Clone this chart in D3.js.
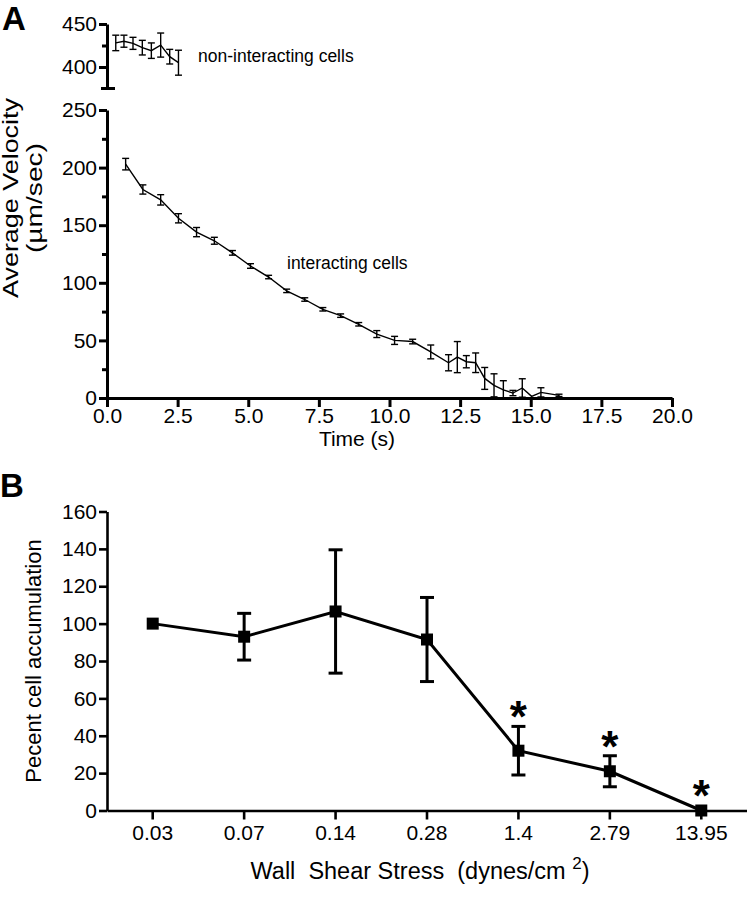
<!DOCTYPE html>
<html><head><meta charset="utf-8">
<script src="https://cdn.jsdelivr.net/npm/d3@7"></script>
<style>
body{margin:0;background:#fff}
svg{display:block}
text{font-family:"Liberation Sans",Arial,Helvetica,sans-serif;fill:#000}
</style>
</head><body>
<svg id="c" width="747" height="899"></svg>
<script>
// ---------- Panel A data ----------
const nonTime = [0.31,0.60,0.92,1.25,1.57,1.90,2.22,2.53];
const nonVel  = [428,430,427.5,422.5,419,425.5,412,405];
const nonErr  = [9,7,7,8.5,9,14,8.5,14.5];

const interTime = [0.66,1.27,1.90,2.53,3.17,3.80,4.44,5.08,5.72,6.36,7.00,7.64,8.27,8.91,9.55,10.18,10.82,11.46,12.09,12.40,12.72,13.05,13.37,13.70,14.03,14.37,14.70,15.03,15.36,16.00];
const interVel  = [203,181,172,156,144,136.5,126,114.6,105,93,85.5,77,71.5,64,55.5,50,49,40,30.6,35.5,31.5,30.6,17,11,7,4.3,8.7,1.4,4.9,2.3];
const interErr  = [5,4,4.5,4,4,3,2,2,1.5,1.5,1.5,1.5,1.5,1.5,3,3.5,2,6,7,13.5,5.3,8.5,9.5,10,8,2.3,8,0,4,1];

const timeTicks = [0,2.5,5,7.5,10,12.5,15,17.5,20];
const lowVelTicks = [0,50,100,150,200,250];
const lowVelMinor = [25,75,125,175,225];
const highVelTicks = [400,450];
const highVelMinor = [425];

// ---------- Panel B data ----------
const shearCats = ["0.03","0.07","0.14","0.28","1.4","2.79","13.95"];
const pctMean   = [100,93,106.5,91.5,32,21,0];
const pctErr    = [0,12.5,33,22.5,13,8.3,0];
const pctSig    = [false,false,false,false,true,true,true];
const pctTicks  = [0,20,40,60,80,100,120,140,160];

const svg = d3.select("#c");
const FONT = 21;

function styleAxis(g, w){
  g.selectAll("path.domain").attr("stroke","#000").attr("stroke-width",w);
  g.selectAll(".tick line").attr("stroke","#000").attr("stroke-width",w);
  g.selectAll(".tick text").attr("font-size",FONT).attr("font-family","Liberation Sans, Arial, sans-serif").attr("fill","#000");
}

// ================= PANEL A =================
const xA = d3.scaleLinear().domain([0,20]).range([107,672]);
const yLow = d3.scaleLinear().domain([0,250]).range([398,110]);
const yHigh = d3.scaleLinear().domain([375,450]).range([88.5,24]);

// lower y axis
const gyl = svg.append("g").attr("transform","translate(107,0)")
  .call(d3.axisLeft(yLow).tickValues(lowVelTicks).tickSize(8).tickSizeOuter(0).tickPadding(2).tickFormat(d3.format("d")));
styleAxis(gyl,3);
svg.append("g").attr("transform","translate(107,0)")
  .call(d3.axisLeft(yLow).tickValues(lowVelMinor).tickSize(5).tickFormat(""))
  .call(g=>{g.select(".domain").remove(); g.selectAll("line").attr("stroke","#000").attr("stroke-width",3);});

// upper y axis
const gyh = svg.append("g").attr("transform","translate(107,0)")
  .call(d3.axisLeft(yHigh).tickValues(highVelTicks).tickSize(8).tickSizeOuter(0).tickPadding(2).tickFormat(d3.format("d")));
styleAxis(gyh,3);
svg.append("g").attr("transform","translate(107,0)")
  .call(d3.axisLeft(yHigh).tickValues(highVelMinor).tickSize(5).tickFormat(""))
  .call(g=>{g.select(".domain").remove(); g.selectAll("line").attr("stroke","#000").attr("stroke-width",3);});
// break cap at bottom of the upper segment
svg.append("line").attr("x1",101).attr("x2",115).attr("y1",yHigh(375)).attr("y2",yHigh(375))
  .attr("stroke","#000").attr("stroke-width",3);

// x axis
const gx = svg.append("g").attr("transform","translate(0,398)")
  .call(d3.axisBottom(xA).tickValues(timeTicks).tickSize(9).tickSizeOuter(0).tickPadding(1).tickFormat(d3.format(".1f")));
styleAxis(gx,3);

// data: lines
const lineA = d3.line().x(d=>xA(d[0])).y(d=>d[1]);
const interPts = interTime.map((t,i)=>[t, yLow(interVel[i])]);
const nonPts = nonTime.map((t,i)=>[t, yHigh(nonVel[i])]);
svg.append("path").attr("d",lineA(interPts)).attr("fill","none").attr("stroke","#000").attr("stroke-width",1.4);
svg.append("path").attr("d",lineA(nonPts)).attr("fill","none").attr("stroke","#000").attr("stroke-width",1.4);

function errBars(times, vals, errs, ys, cap, sw, floor){
  const g = svg.append("g").attr("stroke","#000").attr("stroke-width",sw).attr("fill","none");
  times.forEach((t,i)=>{
    if(!errs[i]) return;
    const x = xA(t);
    const lo = Math.max(vals[i]-errs[i], floor);
    const y1 = ys(vals[i]+errs[i]), y2 = ys(lo);
    g.append("line").attr("x1",x).attr("x2",x).attr("y1",y1).attr("y2",y2);
    g.append("line").attr("x1",x-cap).attr("x2",x+cap).attr("y1",y1).attr("y2",y1);
    if(lo>floor) g.append("line").attr("x1",x-cap).attr("x2",x+cap).attr("y1",y2).attr("y2",y2);
  });
}
errBars(interTime, interVel, interErr, yLow, 3.5, 1.4, 0);
errBars(nonTime, nonVel, nonErr, yHigh, 3.5, 1.4, 375);

// annotations
svg.append("text").attr("x",198).attr("y",62).attr("font-size",17.5).text("non-interacting cells");
svg.append("text").attr("x",287).attr("y",269).attr("font-size",17.5).text("interacting cells");
svg.append("text").attr("x",357).attr("y",446).attr("font-size",FONT).attr("text-anchor","middle").text("Time (s)");
svg.append("text").attr("transform","translate(18,198) rotate(-90)").attr("font-size",21.5)
  .attr("text-anchor","middle").attr("textLength",200).attr("lengthAdjust","spacingAndGlyphs").text("Average Velocity");
svg.append("text").attr("transform","translate(42,198) rotate(-90)").attr("font-size",21.5)
  .attr("text-anchor","middle").attr("textLength",110).attr("lengthAdjust","spacingAndGlyphs").text("(\u00b5m/sec)");
svg.append("text").attr("x",2).attr("y",30).attr("font-size",33).attr("font-weight","bold").text("A");

// ================= PANEL B =================
const xB = d3.scaleBand().domain(shearCats).range([107,747]);
const yB = d3.scaleLinear().domain([0,160]).range([810.5,511.5]);
const cx = d => xB(d)+xB.bandwidth()/2;

const gyB = svg.append("g").attr("transform","translate(107,0)")
  .call(d3.axisLeft(yB).tickValues(pctTicks).tickSize(8).tickSizeOuter(0).tickPadding(2));
styleAxis(gyB,2.6);
const gxB = svg.append("g").attr("transform","translate(0,810.5)")
  .call(d3.axisBottom(xB).tickSize(9).tickSizeOuter(0).tickPadding(6));
styleAxis(gxB,2.6);

const ptsB = shearCats.map((c,i)=>[cx(c), yB(pctMean[i])]);
svg.append("path").attr("d",d3.line()(ptsB)).attr("fill","none").attr("stroke","#000").attr("stroke-width",3);

const gE = svg.append("g").attr("stroke","#000").attr("stroke-width",3);
shearCats.forEach((c,i)=>{
  if(!pctErr[i]) return;
  const x = cx(c), y1 = yB(pctMean[i]+pctErr[i]), y2 = yB(pctMean[i]-pctErr[i]);
  gE.append("line").attr("x1",x).attr("x2",x).attr("y1",y1).attr("y2",y2);
  gE.append("line").attr("x1",x-7).attr("x2",x+7).attr("y1",y1).attr("y2",y1);
  gE.append("line").attr("x1",x-7).attr("x2",x+7).attr("y1",y2).attr("y2",y2);
});
const M = 12;
svg.append("g").selectAll("rect").data(shearCats).join("rect")
  .attr("x",d=>cx(d)-M/2).attr("y",(d,i)=>yB(pctMean[i])-M/2)
  .attr("width",M).attr("height",M).attr("fill","#000");

// significance asterisks
shearCats.forEach((c,i)=>{
  if(!pctSig[i]) return;
  const top = Math.min(yB(pctMean[i]+pctErr[i]), yB(pctMean[i])-M/2);
  svg.append("text").attr("x",cx(c)).attr("y",top+6)
    .attr("font-size",44).attr("font-weight","bold").attr("text-anchor","middle").text("*");
});

svg.append("text").attr("transform","translate(41,661) rotate(-90)").attr("font-size",22).attr("text-anchor","middle").text("Pecent cell accumulation");
const xt = svg.append("text").attr("x",420).attr("y",879).attr("font-size",23.5).attr("text-anchor","middle").style("white-space","pre");
xt.append("tspan").text("Wall  Shear Stress  (dynes/cm ");
xt.append("tspan").attr("dy",-10).attr("font-size",17).text("2");
xt.append("tspan").attr("dy",10).text(")");
svg.append("text").attr("x",0).attr("y",497).attr("font-size",33).attr("font-weight","bold").text("B");
</script>
</body></html>
